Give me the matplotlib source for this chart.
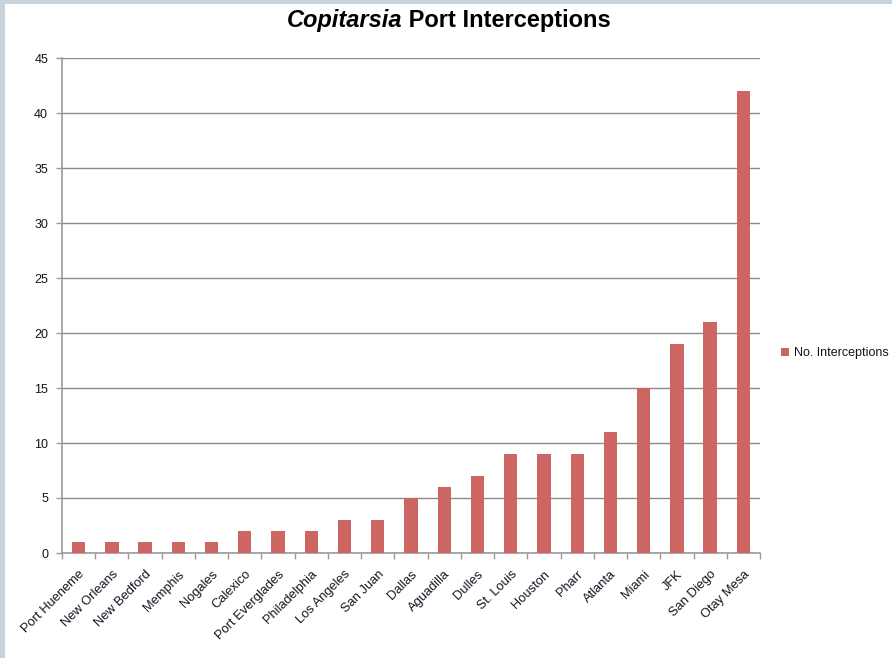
import matplotlib
matplotlib.use("Agg")
import matplotlib.pyplot as plt
from matplotlib.patches import Rectangle
import numpy as np

plt.rcParams['font.family'] = ['Liberation Sans', 'DejaVu Sans']

ports = ["Port Hueneme", "New Orleans", "New Bedford", "Memphis", "Nogales", "Calexico",
         "Port Everglades", "Philadelphia", "Los Angeles", "San Juan", "Dallas", "Aguadilla",
         "Dulles", "St. Louis", "Houston", "Pharr", "Atlanta", "Miami", "JFK", "San Diego",
         "Otay Mesa"]
interceptions = [1, 1, 1, 1, 1, 2, 2, 2, 3, 3, 5, 6, 7, 9, 9, 9, 11, 15, 19, 21, 42]
yticks = [0, 5, 10, 15, 20, 25, 30, 35, 40, 45]

W, H = 892, 658
fig = plt.figure(figsize=(W / 100, H / 100), dpi=100)
fig.patch.set_facecolor('white')
fig.patches.append(Rectangle((0, 0), 5 / W, 1, transform=fig.transFigure,
                             facecolor='#c8d2da', edgecolor='none'))
fig.patches.append(Rectangle((0, 1 - 4 / H), 1, 4 / H, transform=fig.transFigure,
                             facecolor='#c8d2da', edgecolor='none'))

left, right, top, bottom = 62, 760, 58, 553
ax = fig.add_axes([left / W, 1 - bottom / H, (right - left) / W, (bottom - top) / H])

x = np.arange(len(ports))
ax.bar(x, interceptions, width=0.4, color='#cd6563', zorder=3, label='No. Interceptions')
ax.set_xlim(-0.5, len(ports) - 0.5)
ax.set_ylim(0, 45)
ax.set_yticks(yticks)
ax.yaxis.grid(True, color='#8c8c8c', linewidth=1.0, zorder=0)
ax.set_axisbelow(True)

ax.set_xticks(x)
ax.set_xticklabels(ports, rotation=45, ha='right', rotation_mode='anchor', fontsize=9.3,
                   color='#141420')
ax.set_xticks(np.arange(-0.5, len(ports)), minor=True)
ax.tick_params(axis='x', which='major', length=0, pad=11)
ax.tick_params(axis='x', which='minor', length=4, color='#9a9a9a', width=1)
ax.tick_params(axis='y', length=4, color='#9a9a9a', width=1, labelsize=9,
               labelcolor='#141420', pad=6)

for s in ['top', 'right']:
    ax.spines[s].set_visible(False)
for s in ['left', 'bottom']:
    ax.spines[s].set_color('#9a9a9a')
    ax.spines[s].set_linewidth(1.2)

# title: italic bold part + bold part, centred together
ty = 1 - 20 / H
t1 = fig.text(0, ty, "Copitarsia", ha='left', va='center', fontsize=17,
              fontweight='bold', fontstyle='italic')
t2 = fig.text(0, ty, " Port Interceptions", ha='left', va='center', fontsize=17,
              fontweight='bold')
fig.canvas.draw()
r = fig.canvas.get_renderer()
w1 = t1.get_window_extent(r).width
w2 = t2.get_window_extent(r).width
cx = 449
x0 = cx - (w1 + w2) / 2
t1.set_x(x0 / W)
t2.set_x((x0 + w1) / W)

leg = fig.legend(loc='center left', bbox_to_anchor=(770 / W, 1 - 353 / H), frameon=False,
                 fontsize=9, handlelength=0.6, handleheight=0.6, handletextpad=0.4)
for t in leg.get_texts():
    t.set_color('#141420')

fig.savefig('out.png', dpi=100)
